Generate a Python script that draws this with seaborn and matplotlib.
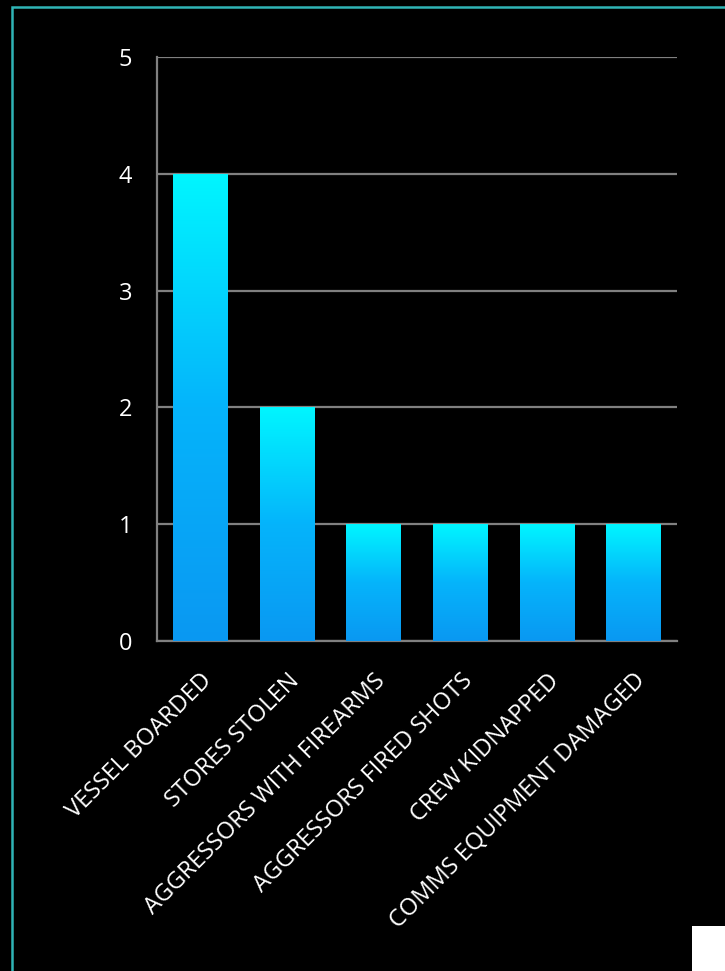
import numpy as np
import matplotlib
matplotlib.use('Agg')
import matplotlib.pyplot as plt
from matplotlib.patches import Rectangle
from matplotlib.colors import LinearSegmentedColormap
import seaborn as sns

categories = ['VESSEL BOARDED', 'STORES STOLEN', 'AGGRESSORS WITH FIREARMS',
              'AGGRESSORS FIRED SHOTS', 'CREW KIDNAPPED', 'COMMS EQUIPMENT DAMAGED']
counts = [4, 2, 1, 1, 1, 1]
y_ticks = [0, 1, 2, 3, 4, 5]

sns.set_style('dark')
plt.rcParams['font.family'] = ['Open Sans', 'DejaVu Sans']

fig = plt.figure(figsize=(7.25, 9.71), dpi=100, facecolor='black')
ax = fig.add_axes([0.2166, 0.3399, 0.7172, 0.6014])
ax.set_facecolor('black')

sns.barplot(x=categories, y=counts, ax=ax, color='#00c8ff', width=0.63,
            saturation=1, edgecolor='none')

# gradient fill, cyan at the top of each bar to blue at the bottom
grad = LinearSegmentedColormap.from_list('bar', ['#0a98f2', '#05b4fb', '#00f6ff'])
for p in ax.patches:
    x0, y0 = p.get_x(), p.get_y()
    w, h = p.get_width(), p.get_height()
    img = ax.imshow(np.linspace(0, 1, 256).reshape(-1, 1), cmap=grad, origin='lower',
                    extent=[x0, x0 + w, y0, y0 + h], aspect='auto', zorder=3)
    img.set_clip_path(p)
    p.set_facecolor('none')

ax.set_xlim(-0.5, len(categories) - 0.5)
ax.set_ylim(0, 5)
ax.set_yticks(y_ticks)
ax.yaxis.grid(True, color='#808080', linewidth=1.6)
ax.xaxis.grid(False)
ax.set_axisbelow(True)

for s in ['top', 'right']:
    ax.spines[s].set_visible(False)
for s in ['left', 'bottom']:
    ax.spines[s].set_visible(True)
    ax.spines[s].set_color('#808080')
    ax.spines[s].set_linewidth(1.6)

ax.tick_params(axis='y', length=0, pad=18, labelsize=17, labelcolor='white')
ax.tick_params(axis='x', length=0, pad=20, labelsize=17, labelcolor='white')
plt.setp(ax.get_xticklabels(), rotation=45, ha='right', rotation_mode='anchor')
for lbl in ax.get_xticklabels():
    x, y = lbl.get_position()
    lbl.set_x(x + 0.03)

# teal frame and the white corner patch
fig.patches.append(Rectangle((11.5 / 725, -0.1), 1.2, 1 - 7.5 / 971 + 0.1,
                             transform=fig.transFigure, fill=False,
                             edgecolor='#2fb4b6', linewidth=1.8))
fig.patches.append(Rectangle((692 / 725, 0), 0.1, 45 / 971,
                             transform=fig.transFigure, facecolor='white',
                             edgecolor='none'))

plt.savefig('out.png', dpi=100, facecolor='black')
